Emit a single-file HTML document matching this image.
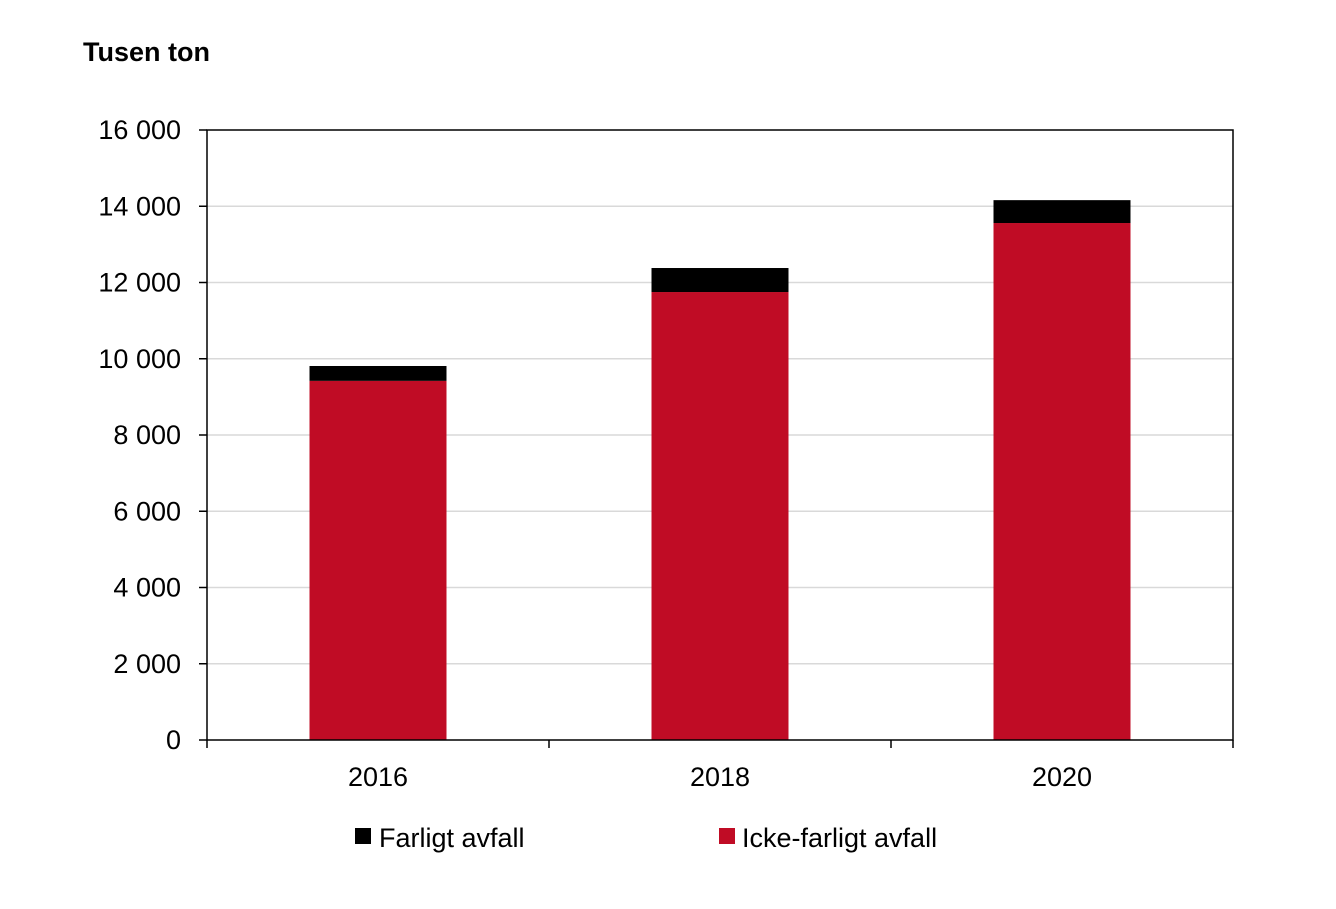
<!DOCTYPE html>
<html><head><meta charset="utf-8"><style>
body{margin:0;background:#fff;font-family:"Liberation Sans",Arial,sans-serif;}
</style></head><body>
<svg width="1336" height="904" xmlns="http://www.w3.org/2000/svg" font-family="Liberation Sans, Arial, sans-serif">
<text x="83" y="61" font-size="27" font-weight="bold">Tusen ton</text>
<g id="grid"></g>
<g id="bars"></g>
<rect x="207" y="130" width="1026" height="610" fill="none" stroke="#000" stroke-width="1.5"/>
<g id="axes"></g>
<g>
<rect x="355" y="828" width="16" height="16" fill="#000"/>
<text x="379" y="847" font-size="27">Farligt avfall</text>
<rect x="719" y="828" width="16" height="16" fill="#c00c25"/>
<text x="742" y="847" font-size="27">Icke-farligt avfall</text>
</g>
</svg>
<script>
const categories=["2016","2018","2020"];
const ickeFarligt=[9420,11750,13560];
const farligt=[390,630,600];
const yTicks=[0,2000,4000,6000,8000,10000,12000,14000,16000];
const yTickLabels=["0","2 000","4 000","6 000","8 000","10 000","12 000","14 000","16 000"];
const NS="http://www.w3.org/2000/svg";
const x0=207,x1=1233,yb=740,yt=130,ymax=16000;
const y=v=>yb-(v/ymax)*(yb-yt);
const band=(x1-x0)/categories.length;
const xc=i=>x0+band*(i+0.5);
const bw=137;
function mk(t,a,p){const e=document.createElementNS(NS,t);for(const k in a)e.setAttribute(k,a[k]);p.appendChild(e);return e;}
const grid=document.getElementById('grid'),bars=document.getElementById('bars'),axes=document.getElementById('axes');
yTicks.forEach((v,i)=>{
 if(v>0&&v<ymax){const l=mk('line',{x1:x0,x2:x1,y1:y(v),y2:y(v),stroke:'#d9d9d9','stroke-width':1.5},grid);
 
 }
 const t=mk('line',{x1:x0-8,x2:x0,y1:y(v),y2:y(v),stroke:'#000','stroke-width':1.5},axes);
 
 
 const tx=mk('text',{x:181,y:y(v)+9,'font-size':27,'text-anchor':'end'},axes);
 tx.textContent=yTickLabels[i];
 
 
});
for(let i=0;i<=categories.length;i++){
 const t=mk('line',{x1:x0+band*i,x2:x0+band*i,y1:yb,y2:yb+8,stroke:'#000','stroke-width':1.5},axes);
 
 
}
categories.forEach((c,i)=>{
 const r=mk('rect',{x:xc(i)-bw/2,y:y(ickeFarligt[i]),width:bw,height:yb-y(ickeFarligt[i]),fill:'#c00c25'},bars);
 
 
 const top=ickeFarligt[i]+farligt[i];
 const b=mk('rect',{x:xc(i)-bw/2,y:y(top),width:bw,height:y(ickeFarligt[i])-y(top),fill:'#000'},bars);
 
 
 const t=mk('text',{x:xc(i),y:786,'font-size':27,'text-anchor':'middle'},axes);
 t.textContent=c;
 
 
});
</script>
</body></html>
